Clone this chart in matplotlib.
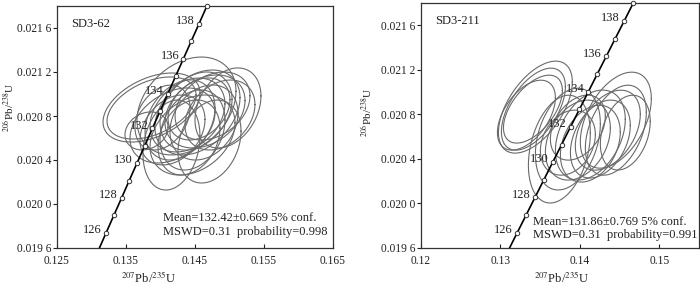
import numpy as np
import matplotlib
matplotlib.use('Agg')
import matplotlib.pyplot as plt

plt.rcParams['font.family'] = ['Liberation Serif', 'DejaVu Serif']
plt.rcParams['mathtext.fontset'] = 'stix'

# concordia points (Ma, 207Pb/235U, 206Pb/238U)
ages = [124, 125, 126, 127, 128, 129, 130, 131, 132, 133, 134, 135, 136, 137, 138, 139, 140]
conc_x = [0.129891, 0.131005, 0.132119, 0.133235, 0.134351, 0.135469, 0.136588, 0.137708,
          0.138829, 0.139951, 0.141074, 0.142198, 0.143324, 0.144450, 0.145578, 0.146706, 0.147837]
conc_y = [0.019422, 0.019580, 0.019738, 0.019896, 0.020054, 0.020213, 0.020371, 0.020529,
          0.020688, 0.020846, 0.021004, 0.021163, 0.021321, 0.021480, 0.021638, 0.021797, 0.021955]
marker_ages = [126, 127, 128, 129, 130, 131, 132, 133, 134, 135, 136, 137, 138, 139]
label_ages = [126, 128, 130, 132, 134, 136, 138]

# SD3-62 spots: centre, half extents, correlation
a_x = [0.13870, 0.13870, 0.14377, 0.14159, 0.13797, 0.14174, 0.14978, 0.14710, 0.14515, 0.14391, 0.14536,
       0.14283, 0.14645, 0.14630, 0.14174, 0.14754, 0.14464, 0.14464, 0.14862, 0.14029, 0.14413, 0.14558]
a_y = [0.020877, 0.020873, 0.020891, 0.020536, 0.020664, 0.020714, 0.020873, 0.020568, 0.020845, 0.020809, 0.020832,
       0.020764, 0.020841, 0.020741, 0.020673, 0.020891, 0.020673, 0.020627, 0.020809, 0.020786, 0.020605, 0.020864]
a_sx = [0.00703, 0.00645, 0.00717, 0.00413, 0.00312, 0.00616, 0.00478, 0.00457, 0.00522, 0.00543, 0.00616,
        0.00507, 0.00580, 0.00493, 0.00471, 0.00543, 0.00471, 0.00616, 0.00507, 0.00399, 0.00449, 0.00449]
a_sy = [0.000314, 0.000282, 0.000445, 0.000409, 0.000173, 0.000341, 0.000364, 0.000377, 0.000355, 0.000336, 0.000386,
        0.000364, 0.000332, 0.000341, 0.000318, 0.000309, 0.000364, 0.000364, 0.000318, 0.000295, 0.000341, 0.000282]
a_rho = [0.42, 0.42, 0.3, 0.2, 0.2, 0.35, 0.3, 0.25, 0.3, 0.3, 0.35,
         0.3, 0.3, 0.25, 0.3, 0.3, 0.25, 0.3, 0.3, 0.3, 0.25, 0.3]

# SD3-211 spots
b_x = [0.13440, 0.13415, 0.13409, 0.13327, 0.13742, 0.13849, 0.13975, 0.13849,
       0.14132, 0.13975, 0.14453, 0.14453, 0.14572, 0.14258, 0.14352, 0.14132]
b_y = [0.020865, 0.020847, 0.020847, 0.020793, 0.020488, 0.020578, 0.020569, 0.020546,
       0.020614, 0.020681, 0.020748, 0.020658, 0.020636, 0.020578, 0.020658, 0.020537]
b_sx = [0.00465, 0.00403, 0.00371, 0.00365, 0.00390, 0.00409, 0.00409, 0.00346,
        0.00440, 0.00346, 0.00447, 0.00384, 0.00314, 0.00377, 0.00409, 0.00377]
b_sy = [0.000413, 0.000368, 0.000305, 0.000314, 0.000484, 0.000457, 0.000359, 0.000292,
        0.000404, 0.000292, 0.000431, 0.000404, 0.000336, 0.000350, 0.000359, 0.000345]
b_rho = [0.55, 0.55, 0.55, 0.5, 0.3, 0.3, 0.3, 0.25,
         0.35, 0.35, 0.45, 0.4, 0.3, 0.35, 0.4, 0.3]

y_ticks = [0.0196, 0.0200, 0.0204, 0.0208, 0.0212, 0.0216]
y_labels = ['0.019 6', '0.020 0', '0.020 4', '0.020 8', '0.021 2', '0.021 6']
a_xticks = [0.125, 0.135, 0.145, 0.155, 0.165]
b_xticks = [0.12, 0.13, 0.14, 0.15]

FS = 9
TFS = 8.3
INK = '#222222'


def DrawPanel(ax, xs, ys, sxs, sys_, rhos, xlim, xticks, xtick_labels, name):
    t = np.linspace(0, 2 * np.pi, 200)
    for cx, cy, sx, sy, r in zip(xs, ys, sxs, sys_, rhos):
        ex = cx + sx * np.cos(t)
        ey = cy + sy * (r * np.cos(t) + np.sqrt(1 - r * r) * np.sin(t))
        ax.plot(ex, ey, color='#6a6a6a', lw=0.8)

    ax.plot(conc_x, conc_y, color='black', lw=1.2, zorder=3)
    mx = [conc_x[ages.index(a)] for a in marker_ages]
    my = [conc_y[ages.index(a)] for a in marker_ages]
    ax.plot(mx, my, 'o', ms=3.2, mfc='white', mec='#333333', mew=0.7, zorder=4, clip_on=False)
    for a in label_ages:
        i = ages.index(a)
        ax.annotate(str(a), (conc_x[i], conc_y[i]), xytext=(-3, 2), textcoords='offset points',
                    ha='right', va='center', fontsize=FS, color=INK, zorder=5)

    ax.set_xlim(xlim)
    ax.set_ylim(0.0196, 0.0218)
    ax.set_xticks(xticks)
    ax.set_xticklabels(xtick_labels)
    ax.set_yticks(y_ticks)
    ax.set_yticklabels(y_labels)
    ax.tick_params(axis='y', direction='out', length=3, width=0.8, labelsize=TFS, pad=1, colors=INK)
    ax.tick_params(axis='x', direction='in', length=3, width=0.8, labelsize=TFS, pad=5, colors=INK)
    for s in ax.spines.values():
        s.set_linewidth(0.9)
        s.set_color('#333333')

    ax.set_xlabel(r'$^{207}$Pb/$^{235}$U', fontsize=FS, color=INK)
    ax.set_ylabel(r'$^{206}$Pb/$^{238}$U', fontsize=8, color=INK)

    ax.text(0.05, 0.925, name, transform=ax.transAxes, fontsize=FS, va='center', color=INK)


fig = plt.figure(figsize=(7, 2.86), dpi=100)

ax1 = fig.add_axes([57 / 700, 38 / 286, 276 / 700, 242 / 286])
DrawPanel(ax1, a_x, a_y, a_sx, a_sy, a_rho, (0.125, 0.165), a_xticks,
          ['0.125', '0.135', '0.145', '0.155', '0.165'], 'SD3-62')
ax1.xaxis.set_label_coords(0.333, -0.09)
ax1.yaxis.set_label_coords(-0.15, 0.58)
ax1.text(0.384, 0.124, 'Mean=132.42\u00b10.669 5% conf.', transform=ax1.transAxes,
         fontsize=FS, va='center', color=INK)
ax1.text(0.384, 0.068, 'MSWD=0.31  probability=0.998', transform=ax1.transAxes,
         fontsize=FS, va='center', color=INK)

ax2 = fig.add_axes([421 / 700, 38 / 286, 278 / 700, 245 / 286])
DrawPanel(ax2, b_x, b_y, b_sx, b_sy, b_rho, (0.12, 0.155), b_xticks,
          ['0.12', '0.13', '0.14', '0.15'], 'SD3-211')
ax2.xaxis.set_label_coords(0.504, -0.09)
ax2.yaxis.set_label_coords(-0.17, 0.555)
ax2.text(0.403, 0.106, 'Mean=131.86\u00b10.769 5% conf.', transform=ax2.transAxes,
         fontsize=FS, va='center', color=INK)
ax2.text(0.403, 0.053, 'MSWD=0.31  probability=0.991', transform=ax2.transAxes,
         fontsize=FS, va='center', color=INK)

fig.savefig('out.png', dpi=100)
